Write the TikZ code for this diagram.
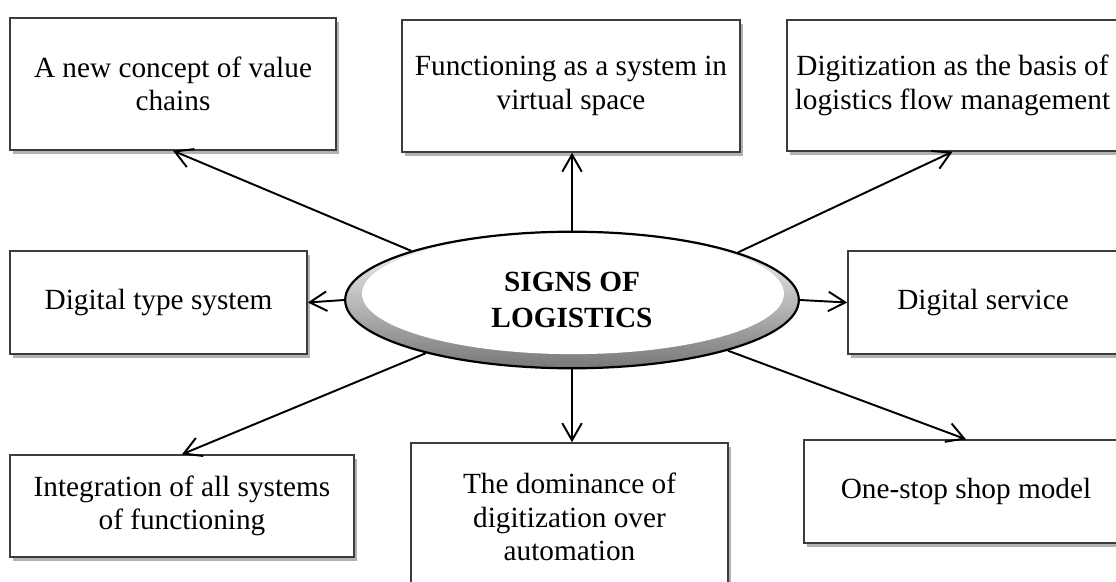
\documentclass[tikz,border=0pt]{standalone}
\usepackage{fontspec}
\setmainfont{Liberation Serif}
\usetikzlibrary{positioning,arrows.meta,calc,shapes.geometric,shadows}
\definecolor{BoxLine}{RGB}{60,60,60}
\definecolor{RimGray}{RGB}{120,120,120}
\tikzset{
  flow/.style={-{Straight Barb[length=7pt,width=8pt]},line width=0.8pt,draw=black},
  featbox/.style={draw=BoxLine,fill=white,line width=0.6pt,align=center,
    font=\fontsize{12}{13.8}\selectfont,inner sep=0pt,
    drop shadow={shadow xshift=1.2pt,shadow yshift=-1.8pt,opacity=0.3,fill=black}},
  signoval/.style={ellipse,draw=black,line width=0.9pt,inner sep=0pt,
    top color=white,bottom color=RimGray,
    minimum width=186pt,minimum height=56pt,align=center,
    font=\fontsize{12}{14.4}\selectfont\bfseries,
    path picture={\fill[white] ([xshift=0.4pt,yshift=2.6pt]path picture bounding box.center)
      ellipse [x radius=86.5pt,y radius=24.8pt];}}
}
\begin{document}
\begin{tikzpicture}[x=0.41pt,y=-0.41pt]
  \useasboundingbox (0,0) rectangle (1116,581);
  \clip (0,0) rectangle (1116,581);
  % centre
  \node[signoval] (sign) at (572,300) {SIGNS OF\\LOGISTICS};
  % top row
  \node[featbox,minimum width=133.7pt,minimum height=54.1pt] (tl) at (173,84)
    {A new concept of value\\chains};
  \node[featbox,minimum width=138.6pt,minimum height=54.1pt] (tm) at (571,86)
    {Functioning as a system in\\virtual space};
  \node[featbox,minimum width=135.7pt,minimum height=53.7pt] (tr) at (952.5,85.5)
    {Digitization as the basis of\\logistics flow management};
  % middle row
  \node[featbox,minimum width=121.8pt,minimum height=42.2pt] (ml) at (158.5,302.5)
    {Digital type system};
  \node[featbox,minimum width=110.7pt,minimum height=42.2pt] (mr) at (983,302.5)
    {Digital service};
  % bottom row
  \node[featbox,minimum width=141pt,minimum height=41.8pt] (bl) at (182,506)
    {Integration of all systems\\of functioning};
  \node[featbox,minimum width=130pt,minimum height=60.7pt] (bm) at (569.5,517)
    {The dominance of\\digitization over\\automation};
  \node[featbox,minimum width=132.8pt,minimum height=42.2pt] (br) at (966,491.5)
    {One-stop shop model};
  % arrows
  \draw[flow] (sign.163.5) -- (tl.south);
  \draw[flow] (sign.north) -- (sign.north |- tm.south);
  \draw[flow] (sign.16) -- (tr.south);
  \draw[flow] (sign.west) -- (ml.east);
  \draw[flow] (sign.east) -- (mr.west);
  \draw[flow] (sign.200) -- (bl.north);
  \draw[flow] (sign.south) -- (sign.south |- bm.north);
  \draw[flow] (sign.-18.2) -- (br.north);
\end{tikzpicture}
\end{document}
